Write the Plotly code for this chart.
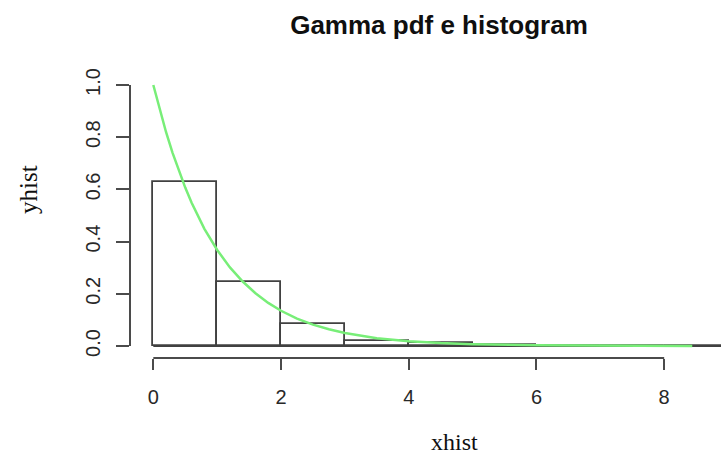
import plotly.graph_objects as go

# Histogram (density)
bin_edges = [0, 1, 2, 3, 4, 5, 6, 7, 8, 9]
bin_density = [0.63, 0.246, 0.084, 0.019, 0.012, 0.003, 0.0, 0.0, 0.0]

# Gamma pdf curve points
curve_x = [0, 0.1, 0.2, 0.3, 0.4, 0.5, 0.6, 0.8, 1.0, 1.2, 1.4, 1.6, 1.8, 2.0,
           2.25, 2.5, 2.75, 3.0, 3.5, 4.0, 4.5, 5.0, 6.0, 7.0, 8.0, 8.44]
curve_y = [1.0, 0.905, 0.819, 0.741, 0.670, 0.607, 0.549, 0.449, 0.368, 0.301,
           0.247, 0.202, 0.165, 0.135, 0.105, 0.082, 0.064, 0.050, 0.030, 0.018,
           0.011, 0.007, 0.0025, 0.001, 0.0003, 0.0002]

x_ticks = [0, 2, 4, 6, 8]
y_ticks = [0.0, 0.2, 0.4, 0.6, 0.8, 1.0]
y_ticktext = ["0.0", "0.2", "0.4", "0.6", "0.8", "1.0"]

title_text = "Gamma pdf e histogram"
x_title = "xhist"
y_title = "yhist"

axis_col = "rgb(75,75,75)"
bar_col = "rgb(65,65,65)"
green = "rgb(120,238,120)"
tick_font = dict(family="Liberation Sans, Arial", size=20, color="rgb(40,40,40)")

centers = [(a + b) / 2 for a, b in zip(bin_edges[:-1], bin_edges[1:])]
widths = [b - a for a, b in zip(bin_edges[:-1], bin_edges[1:])]

fig = go.Figure()
fig.add_trace(go.Bar(
    x=centers, y=bin_density, width=widths,
    marker=dict(color="white", line=dict(color=bar_col, width=1.8)),
    showlegend=False, hoverinfo="skip"))
# baseline of the (zero-height) bars
fig.add_trace(go.Scatter(
    x=[bin_edges[0], bin_edges[-1]], y=[0, 0], mode="lines",
    line=dict(color=bar_col, width=1.8), showlegend=False, hoverinfo="skip"))
fig.add_trace(go.Scatter(
    x=curve_x, y=curve_y, mode="lines",
    line=dict(color=green, width=2.5), showlegend=False))

fig.update_layout(
    width=721, height=457,
    margin=dict(l=130, r=0, t=76, b=99),
    plot_bgcolor="white", paper_bgcolor="white",
    bargap=0,
    title=dict(text="<b>" + title_text + "</b>", x=439 / 721, xref="container",
               xanchor="center", y=1 - 25 / 457, yref="container", yanchor="middle",
               font=dict(family="Liberation Sans, Arial", size=26, color="rgb(15,15,15)")),
    xaxis=dict(range=[-0.365, 8.89], showgrid=False, zeroline=False, showline=False,
               tickvals=x_ticks, ticks="outside", ticklen=11, tickwidth=2,
               tickcolor=axis_col, ticklabelstandoff=10, tickfont=tick_font),
    yaxis=dict(range=[-0.046, 1.0345], showgrid=False, zeroline=False, showline=False,
               tickvals=y_ticks, ticktext=y_ticktext, ticks="outside", ticklen=13,
               tickwidth=2, tickcolor=axis_col, tickangle=-90, ticklabelstandoff=8,
               tickfont=tick_font),
    shapes=[
        dict(type="line", xref="x", yref="paper", x0=x_ticks[0], x1=x_ticks[-1], y0=0, y1=0,
             line=dict(color=axis_col, width=2)),
        dict(type="line", xref="paper", yref="y", x0=0, x1=0, y0=y_ticks[0], y1=y_ticks[-1],
             line=dict(color=axis_col, width=2)),
    ],
    annotations=[
        dict(text=x_title, xref="paper", yref="paper", x=(455 - 130) / 591, y=-(442 - 358) / 282,
             xanchor="center", yanchor="middle", showarrow=False,
             font=dict(family="Liberation Serif, Times New Roman", size=24, color="rgb(15,15,15)")),
        dict(text=y_title, xref="paper", yref="paper", x=-(130 - 28) / 591, y=(358 - 190) / 282,
             xanchor="center", yanchor="middle", showarrow=False, textangle=-90,
             font=dict(family="Liberation Serif, Times New Roman", size=25, color="rgb(15,15,15)")),
    ],
)

fig.write_html("out.html")
